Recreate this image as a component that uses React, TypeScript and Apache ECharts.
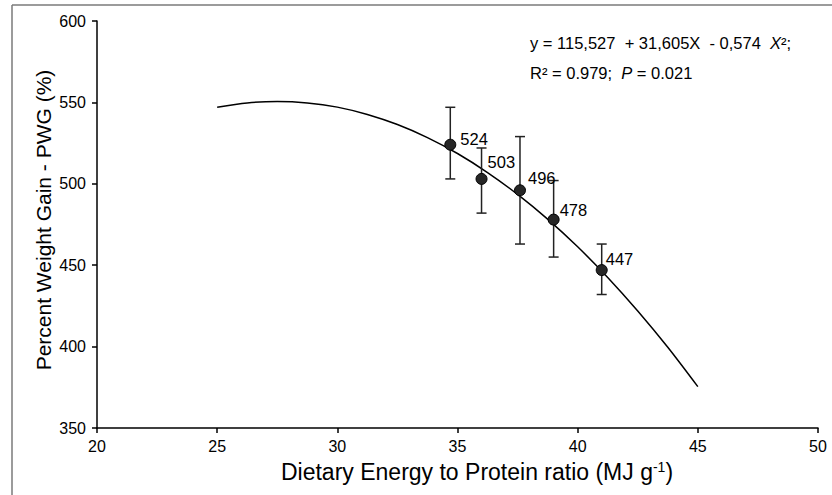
import React, { useEffect, useRef } from "react";
import * as echarts from "echarts";

const ratio = [34.7, 36.0, 37.6, 39.0, 41.0];
const pwg = [524, 503, 496, 478, 447];
const errLow = [503, 482, 463, 455, 432];
const errHigh = [547, 522, 529, 502, 463];
const curveX = [25, 26.25, 27.5, 28.75, 30, 31.25, 32.5, 33.75, 35, 36.25, 37.5, 38.75, 40, 41.25, 42.5, 43.75, 45];
const curveY = [547, 549.7, 550.6, 549.7, 547.1, 542.6, 536.4, 528.4, 518.6, 506.9, 493.5, 478.3, 461.3, 442.5, 421.9, 399.6, 375.4];
const xTicks = { min: 20, max: 50, interval: 5 };
const yTicks = { min: 350, max: 600, interval: 50 };
const labelOffsets = [[4, -6], [0, -17], [2, -12], [0, -10], [-2, -11]];

const FONT = "'Liberation Sans', Arial, sans-serif";

export default function App() {
  const ref = useRef<HTMLDivElement>(null);
  useEffect(() => {
    const chart = echarts.init(ref.current!, null, { renderer: "svg" });
    chart.setOption({
      animation: false,
      backgroundColor: "#fff",
      textStyle: { fontFamily: FONT },
      grid: { left: 97, right: 14, top: 21, bottom: 67 },
      xAxis: {
        type: "value",
        min: xTicks.min,
        max: xTicks.max,
        interval: xTicks.interval,
        splitLine: { show: false },
        axisLine: { lineStyle: { color: "#000", width: 1.5 } },
        axisTick: { show: true, length: 5, lineStyle: { color: "#000", width: 1.5 } },
        axisLabel: { color: "#000", fontSize: 16, margin: 10, fontFamily: FONT },
      },
      yAxis: {
        type: "value",
        min: yTicks.min,
        max: yTicks.max,
        interval: yTicks.interval,
        splitLine: { show: false },
        axisLine: { show: true, lineStyle: { color: "#000", width: 1.5 } },
        axisTick: { show: true, length: 5, lineStyle: { color: "#000", width: 1.5 } },
        axisLabel: { color: "#000", fontSize: 16, margin: 11, fontFamily: FONT },
      },
      graphic: [
        { type: "line", shape: { x1: 12, y1: 5, x2: 832, y2: 5 }, style: { stroke: "#7a7a7a", lineWidth: 1.5 } },
        { type: "line", shape: { x1: 12, y1: 5, x2: 12, y2: 495 }, style: { stroke: "#7a7a7a", lineWidth: 1.5 } },
        {
          type: "text",
          x: 43,
          y: 220,
          rotation: Math.PI / 2,
          style: {
            text: "Percent Weight Gain - PWG (%)",
            fontSize: 21,
            fontFamily: FONT,
            fill: "#000",
            align: "center",
            verticalAlign: "middle",
          },
        },
        {
          type: "text",
          x: 477,
          y: 472,
          style: {
            text: "Dietary Energy to Protein ratio (MJ g{sup|-1})",
            fontSize: 23,
            fontFamily: FONT,
            fill: "#000",
            align: "center",
            verticalAlign: "middle",
            rich: {
              sup: { fontSize: 14, fontFamily: FONT, fill: "#000", padding: [0, 0, 10, 0] },
            },
          },
        },
        {
          type: "text",
          x: 530,
          y: 43,
          style: {
            text: "y = 115,527  + 31,605X  - 0,574  {i|X}²;",
            fontSize: 16.5,
            fontFamily: FONT,
            fill: "#000",
            align: "left",
            verticalAlign: "middle",
            rich: { i: { fontStyle: "italic", fontSize: 16.5, fontFamily: FONT, fill: "#000" } },
          },
        },
        {
          type: "text",
          x: 530,
          y: 73,
          style: {
            text: "R² = 0.979;  {i|P} = 0.021",
            fontSize: 16.5,
            fontFamily: FONT,
            fill: "#000",
            align: "left",
            verticalAlign: "middle",
            rich: { i: { fontStyle: "italic", fontSize: 16.5, fontFamily: FONT, fill: "#000" } },
          },
        },
      ],
      series: [
        {
          type: "line",
          data: curveX.map((x, i) => [x, curveY[i]]),
          smooth: 0.3,
          showSymbol: false,
          lineStyle: { color: "#000", width: 1.5 },
          z: 1,
        },
        {
          type: "custom",
          data: ratio.map((x, i) => [x, errLow[i], errHigh[i]]),
          renderItem: (params: any, api: any) => {
            const x = api.value(0);
            const lo = api.coord([x, api.value(1)]);
            const hi = api.coord([x, api.value(2)]);
            const w = 5;
            const st = { stroke: "#222", lineWidth: 1.5 };
            return {
              type: "group",
              children: [
                { type: "line", shape: { x1: lo[0], y1: lo[1], x2: hi[0], y2: hi[1] }, style: st },
                { type: "line", shape: { x1: hi[0] - w, y1: hi[1], x2: hi[0] + w, y2: hi[1] }, style: st },
                { type: "line", shape: { x1: lo[0] - w, y1: lo[1], x2: lo[0] + w, y2: lo[1] }, style: st },
              ],
            };
          },
          z: 2,
        },
        {
          type: "scatter",
          data: ratio.map((x, i) => ({
            value: [x, pwg[i]],
            label: { offset: labelOffsets[i] },
          })),
          symbol: "circle",
          symbolSize: 11,
          itemStyle: { color: "#262626", borderColor: "#000", borderWidth: 1, opacity: 1 },
          label: {
            show: true,
            position: "right",
            distance: 0,
            formatter: (p: any) => String(p.value[1]),
            color: "#000",
            fontSize: 16.5,
            fontFamily: FONT,
          },
          z: 3,
        },
      ],
    });
    return () => chart.dispose();
  }, []);
  return (
    <div
      ref={ref}
      style={{ position: "absolute", left: 0, top: 0, width: 832, height: 495 }}
    />
  );
}
